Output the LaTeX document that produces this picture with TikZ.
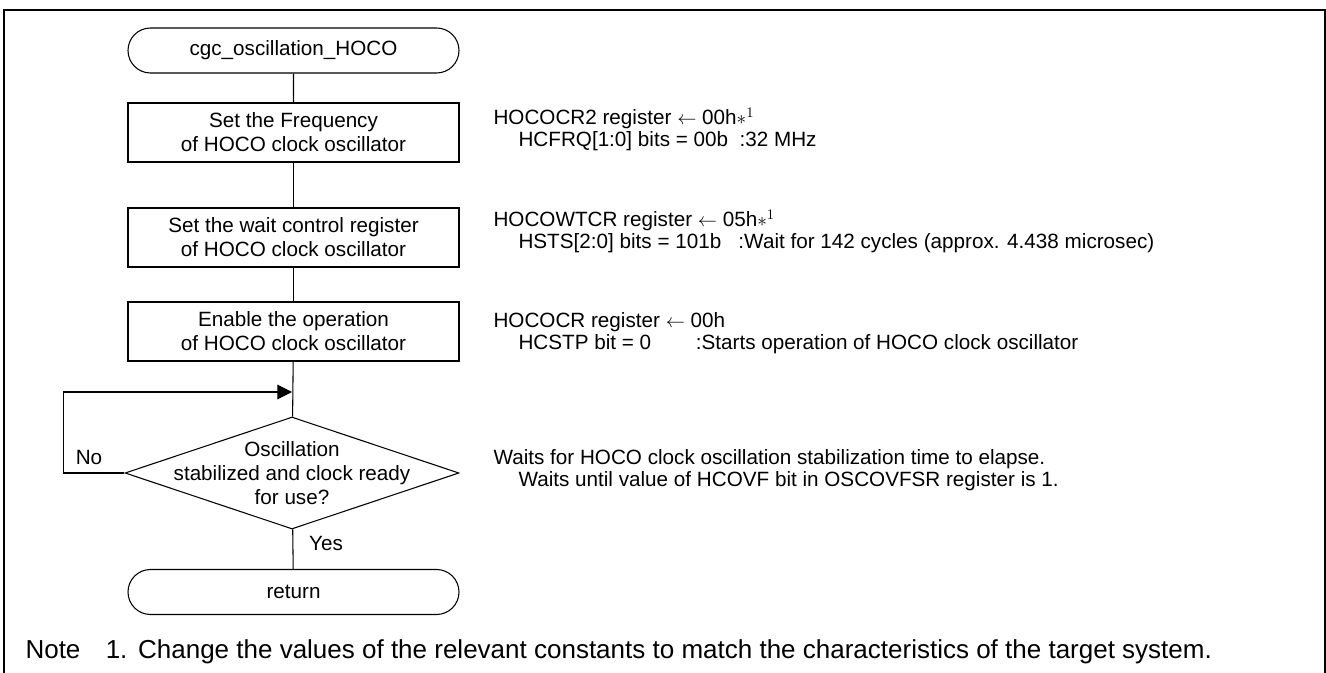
\documentclass[tikz,border=0pt]{standalone}
\usepackage{fontspec}
\setmainfont{Liberation Sans}
\usetikzlibrary{shapes.geometric,shapes.misc,arrows.meta}

\begin{document}
\begin{tikzpicture}[x=0.75pt,y=-0.75pt,line width=0.8pt,
	font=\fontsize{15.5}{18}\selectfont,
	termbox/.style={draw,rounded rectangle,minimum width=248.25pt,minimum height=33.75pt,inner sep=0pt},
	procbox/.style={draw,rectangle,minimum width=248.25pt,minimum height=44.25pt,align=center,inner sep=0pt},
	decbox/.style={draw,diamond,minimum width=250.5pt,minimum height=84pt,inner sep=0pt},
	remark/.style={anchor=west,align=left,inner sep=0pt,font=\fontsize{15.5}{16.5}\selectfont}]
\useasboundingbox (0,0) rectangle (1326,673);
% frame, open at the bottom
\draw[line width=1.5pt] (4,673) -- (4,10) -- (1325,10) -- (1325,673);

% flow
\node[termbox] (start) at (293.5,50.5) {cgc\_oscillation\_HOCO};
\node[procbox] (freq) at (293.5,132.5) {Set the Frequency\\of HOCO clock oscillator};
\node[procbox] (wait) at (293.5,237.5) {Set the wait control register\\of HOCO clock oscillator};
\node[procbox] (enable) at (293.5,331.5) {Enable the operation\\of HOCO clock oscillator};
\node[decbox] (ready) at (292,473) {};
\node[align=center,inner sep=0pt] (readytext) at (ready.center) {Oscillation\\stabilized and clock ready\\for use?};
\node[termbox] (ret) at (293.5,592) {return};
\coordinate (loop) at (ready.north |- 0,392);

\draw (start) -- (freq);
\draw (freq) -- (wait);
\draw (wait) -- (enable);
\draw (enable) -- (ready);
\draw (ready) -- (ret);
\draw[-{Triangle[length=11pt,width=11pt]}] (ready.west) -- ++(-61,0) |- (loop);
\node[inner sep=0pt] (no) at (89,457) {No};
\node[inner sep=0pt] (yes) at (326,543) {Yes};

% remarks
\node[remark] (rfreq) at (493,129) {HOCOCR2 register \(\leftarrow\) 00h\(\ast^{1}\)\\
	\hspace*{18.75pt}HCFRQ[1:0] bits = 00b\ \ :32 MHz};
\node[remark] (rwait) at (493,231) {HOCOWTCR register \(\leftarrow\) 05h\(\ast^{1}\)\\
	\hspace*{18.75pt}HSTS[2:0] bits = 101b\ \ \ :Wait for 142 cycles (approx. 4.438 microsec)};
\node[remark] (renable) at (493,333) {HOCOCR register \(\leftarrow\) 00h\\
	\hspace*{18.75pt}\makebox[133pt][l]{HCSTP bit = 0}:Starts operation of HOCO clock oscillator};
\node[remark] (rready) at (493,470) {Waits for HOCO clock oscillation stabilization time to elapse.\\
	\hspace*{18.75pt}Waits until value of HCOVF bit in OSCOVFSR register is 1.};

% note
\node[anchor=west,inner sep=0pt,font=\fontsize{19.5}{22}\selectfont] (note) at (25,652)
	{Note\hspace*{19pt}1.\hspace*{8pt}Change the values of the relevant constants to match the characteristics of the target system.};
\end{tikzpicture}
\end{document}
